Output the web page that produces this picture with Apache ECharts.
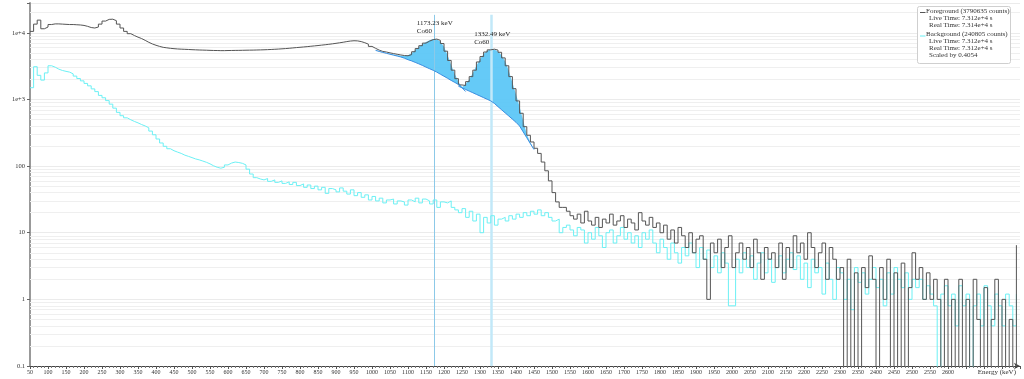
<!DOCTYPE html>
<html><head><meta charset="utf-8">
<script src="https://cdn.jsdelivr.net/npm/echarts@6/dist/echarts.min.js"></script>
<style>html,body{margin:0;padding:0;background:#fff}#c{width:1024px;height:379px}</style>
</head><body><div id="c"></div>
<script>
// ---- data (10 keV bins, lower edge from binStart) ----
const binStart = 50, binWidth = 10;
const foreground = [
10500,13500,15500,11500,12200,13300,13600,13600,13500,13400,
13300,13300,13200,13100,12900,12500,12000,11800,12200,13500,
15000,15900,16000,15200,13500,11800,10500,9700,9100,8600,
8200,7700,7200,6800,6500,6250,6050,5950,5850,5780,
5720,5680,5650,5620,5580,5550,5520,5500,5480,5450,
5430,5420,5400,5400,5420,5430,5440,5450,5460,5480,
5490,5500,5520,5540,5560,5590,5620,5660,5700,5750,
5800,5860,5930,6000,6060,6130,6200,6280,6360,6440,
6530,6620,6720,6830,6950,7080,7220,7380,7520,7600,
7560,7380,7100,6750,6250,5850,5500,5250,5150,5000,
4880,4760,4650,4560,4520,4700,5200,5800,6400,7000,
7500,7900,8050,7700,6900,5300,3850,2750,2050,1650,
1620,1850,2200,2750,3650,4400,5150,5550,5680,5500,
5100,4200,3200,2200,1450,950,620,390,290,230,
185,155,115,85,60,40,29,24,24,21,
18,16,19,14,21,15,13,17,12,16,
14,19,13,15,18,12,16,14,11,20,
15,13,17,12,14,10,13,8,11,7,
12,9,6,10,5,8,9,4,1,7,
5,8,3,6,9,3,5,7,4,6,
3,8,5,2,6,4,5,3,7,2,
6,3,9,5,7,4,10,6,3,5,
7,2,6,4,2,3,0,4,0,2.5,
0,3,1.5,4.5,2,0,3,1,4,0,
2.5,0,3.5,0,1.5,5,2,3,1,2.5,
1,2,1,0,2,0,1,0,2,0,
1,0,2,0.5,0,1.5,0,0.5,2,0,
1,0,0.5,0,6.5
];
const background = [
1500,3100,2300,1950,2500,3200,3050,2850,2720,2640,
2570,2420,2240,2060,1900,1740,1600,1440,1310,1150,
1060,960,850,740,640,570,530,495,468,445,
420,400,375,335,295,255,222,198,182,170,
162,155,146,140,134,128,124,119,114,108,
101,96,93,96,104,111,115,113,110,104,
90,76,67,64,62,65,59,62,57,60,
55,58,53,57,51,54,48,52,46,50,
44,48,39,46,44,41,47,42,38,44,
36,40,34,37,31,35,30,33,28,31,
32,27,30,29,26,31,29,33,28,32,
30,27,31,24,29,28,30,24,22,20,
23,17,21,15,19,10,17,14,18,13,
16,17,15,18,16,19,17,20,18,21,
19,22,18,20,17,15,16,10,12,13,
11,9,12,11,7,10,8,12,9,6,
10,11,7,9,12,8,10,7,9,6,
10,8,11,7,5,8,6,4,7,5,
3.5,6,4.5,7,5,3,6,4,5.5,3,
4.5,2.5,5,3.5,0.8,0.8,4,2.5,5,3,
4.5,2,3.5,5,2.5,4,1.8,3,4.5,2.5,
4,5,2.8,4.5,2,3.5,1.5,4,2.5,3,
1.2,3.5,2,1,3,2.5,1,2,0.7,3,
1.8,2.5,1.2,2,3,1.5,2,0.8,2.5,1.2,
3,2,1.5,2.5,1,2,1.5,2,1,1.6,
1.2,0.8,0,1.2,1.6,0.8,1.2,0.4,1.6,0.8,
1.2,0,0.8,1.2,0.4,1.6,0.8,0.4,1.2,0.8,
0.4,1.2,0.8,0.4,1.2
];
// peak fit regions (energy, fitted total, continuum)
const roi1Energy = [1010,1020,1030,1040,1050,1060,1070,1080,1090,1100,1110,1120,1130,1140,1150,1160,1170,1180,1190,1200,1210,1220,1230,1240,1250,1260];
const roi1Fit = [5500,5300,5120,4970,4840,4720,4610,4530,4500,4600,4950,5500,6100,6750,7300,7750,8050,7950,7400,6200,4600,3300,2400,1850,1540,1320];
const roi1Continuum = [5450,5250,5080,4920,4770,4620,4480,4340,4160,3950,3790,3600,3420,3240,3055,2890,2735,2570,2390,2230,2075,1930,1800,1680,1500,1315];
const roi2Energy = [1240,1250,1260,1270,1280,1290,1300,1310,1320,1330,1340,1350,1360,1370,1380,1390,1400,1410,1420,1430,1440,1450];
const roi2Fit = [1580,1530,1700,2000,2500,3200,4000,4800,5400,5680,5600,5250,4600,3700,2700,1800,1200,780,480,300,225,178];
const roi2Continuum = [1580,1494,1412,1334,1262,1191,1127,1064,1005,951,871,780,700,628,564,506,454,399,326,266,217,177];
const peakEnergy = [1173.23, 1332.49];
const peakLabel = ['1173.23 keV\nCo60', '1332.49 keV\nCo60'];
const yTickValues = [0.1, 1, 10, 100, 1000, 10000];
const yTickLabels = ['0.1', '1', '10', '100', '1e+3', '1e+4'];
const legendText = [
  ['Foreground (3790635 counts)', 'Live Time: 7.312e+4 s', 'Real Time: 7.314e+4 s'],
  ['Background (240805 counts)', 'Live Time: 7.312e+4 s', 'Real Time: 7.312e+4 s', 'Scaled by 0.4054']
];

// ---- build ----
const FONT = "'Liberation Serif','DejaVu Serif',serif";
const FG = '#555555', BG = '#6cf0f4';
const ZERO_SHOW = 0.01; // empty bins drawn below the axis floor
const energies = foreground.map((_, i) => binStart + i * binWidth);
const fgData = energies.map((e, i) => [e, foreground[i] > 0 ? foreground[i] : ZERO_SHOW]);
const bgData = energies.map((e, i) => [e, background[i] > 0 ? background[i] : ZERO_SHOW]);
const Y_MIN = 0.1, Y_MAX = 28000;
const minorGrid = [];
yTickValues.forEach(d => { for (let k = 2; k <= 9; k++) { const v = d * k; if (v < Y_MAX) minorGrid.push(v); } });
function peakTop(E) {
  let m = 0;
  energies.forEach((e, i) => { if (e + binWidth / 2 > E - 12 && e + binWidth / 2 < E + 12) m = Math.max(m, foreground[i]); });
  return m;
}
function roiSeries(E, fit, cont) {
  return {
    type: 'custom', z: 2, silent: true, clip: true,
    data: [[E[0], fit[0]]],
    renderItem: (params, api) => {
      const pts = [];
      for (let i = 0; i < E.length; i++) pts.push(api.coord([E[i], fit[i]]));
      for (let i = E.length - 1; i >= 0; i--) pts.push(api.coord([E[i], cont[i]]));
      return { type: 'polygon', shape: { points: pts }, style: { fill: '#58c6f6', opacity: 0.92 } };
    }
  };
}
function contSeries(E, cont) {
  return {
    type: 'line', z: 5, silent: true, symbol: 'none', smooth: false,
    data: E.map((e, i) => [e, cont[i]]),
    lineStyle: { color: '#3a8ee0', width: 1 }
  };
}

const graphics = [{
  type: 'rect', left: 917, top: 6, shape: { width: 93, height: 57, r: 2 },
  style: { fill: '#fff', stroke: '#cfcfcf', lineWidth: 1 }, z: 100
}];
const legendColors = [FG, BG];
let ly = 11;
legendText.forEach((block, b) => {
  graphics.push({ type: 'line', shape: { x1: 920, y1: ly + 1.5, x2: 925.5, y2: ly + 1.5 },
    style: { stroke: legendColors[b], lineWidth: 1 }, z: 101 });
  block.forEach((t, j) => {
    graphics.push({ type: 'text', x: j === 0 ? 926 : 929, y: ly,
      style: { text: t, font: '7px ' + FONT, fill: '#333', textVerticalAlign: 'middle', verticalAlign: 'middle' }, z: 101 });
    ly += 7;
  });
  ly += 2.5;
});

const option = {
  animation: false,
  backgroundColor: '#fff',
  grid: { left: 30, right: 4, top: 3, bottom: 13, containLabel: false, outerBoundsMode: 'none' },
  xAxis: {
    type: 'value', min: 50, max: 2800, interval: 50,
    name: 'Energy (keV)', nameLocation: 'end', nameGap: -4,
    nameTextStyle: { align: 'right', verticalAlign: 'top', padding: [3, 0, 0, 0], fontSize: 7, fontFamily: FONT, color: '#333' },
    axisLine: { show: true, lineStyle: { color: '#444', width: 1 }, symbol: ['none', 'arrow'], symbolSize: [5, 6] },
    axisTick: { show: true, length: 3, lineStyle: { color: '#555' } },
    minorTick: { show: true, splitNumber: 5, length: 2, lineStyle: { color: '#777' } },
    splitLine: { show: false },
    axisLabel: { fontSize: 6, fontFamily: FONT, color: '#333', margin: 3, showMaxLabel: false,
      formatter: v => (v > 2600 ? '' : String(v)) }
  },
  yAxis: {
    type: 'log', logBase: 10, min: Y_MIN, max: Y_MAX,
    name: 'Counts', nameLocation: 'middle', nameGap: 18,
    nameTextStyle: { fontSize: 7, fontFamily: FONT, color: '#333' },
    axisLine: { show: true, lineStyle: { color: '#999', width: 2 } },
    axisTick: { show: true, length: 3, lineStyle: { color: '#666' } },
    splitLine: { show: true, lineStyle: { color: '#ebebeb', width: 1 } },
    axisLabel: { fontSize: 6.5, fontFamily: FONT, color: '#333', margin: 5,
      formatter: v => { const i = yTickValues.findIndex(t => Math.abs(t - v) / t < 1e-6); return i >= 0 ? yTickLabels[i] : ''; } }
  },
  graphic: graphics,
  series: [
    { type: 'line', z: 1, data: [], silent: true,
      markLine: { z: 1, silent: true, symbol: ['none', 'none'], label: { show: false }, animation: false,
        lineStyle: { color: '#efefef', type: 'solid', width: 1 },
        data: minorGrid.map(v => ({ yAxis: v })) } },
    roiSeries(roi1Energy, roi1Fit, roi1Continuum),
    roiSeries(roi2Energy, roi2Fit, roi2Continuum),
    { type: 'line', z: 2, data: [], silent: true,
      markLine: { z: 2.5, silent: true, symbol: ['none', 'none'], label: { show: false }, animation: false,
        data: [
          [{ coord: [peakEnergy[0], 18600], lineStyle: { color: '#8cc9e8', width: 1, type: 'solid' } }, { coord: [peakEnergy[0], Y_MIN] }],
          [{ coord: [peakEnergy[1], 18600], lineStyle: { color: '#c2e8f8', width: 2.5, type: 'solid' } }, { coord: [peakEnergy[1], Y_MIN] }]
        ] } },
    { name: 'Background', type: 'line', z: 3, step: 'end', symbol: 'none', data: bgData, clip: true,
      lineStyle: { color: BG, width: 1 } },
    { name: 'Foreground', type: 'line', z: 4, step: 'end', symbol: 'none', data: fgData, clip: true,
      lineStyle: { color: FG, width: 1 } },
    contSeries(roi1Energy, roi1Continuum),
    contSeries(roi2Energy, roi2Continuum),
    { type: 'line', z: 6, data: [], silent: true,
      markPoint: { z: 6, silent: true, symbol: 'circle', symbolSize: 1, itemStyle: { color: 'rgba(0,0,0,0)' }, animation: false,
        data: peakEnergy.map((e, i) => ({ coord: [e, peakTop(e)],
          label: { show: true, formatter: peakLabel[i], position: [-17, -19], align: 'left', verticalAlign: 'top',
            fontSize: 7, lineHeight: 8, fontFamily: FONT, color: '#222' } })) } }
  ]
};
const chart = echarts.init(document.getElementById('c'), null, { renderer: 'canvas' });
chart.setOption(option);
</script></body></html>
